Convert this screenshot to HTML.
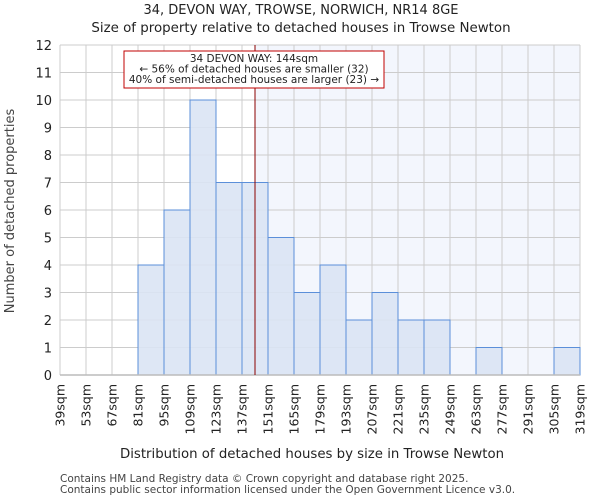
<!DOCTYPE html>
<html><head><meta charset="utf-8"><style>
body{margin:0;background:#fff;font-family:"DejaVu Sans","Liberation Sans",sans-serif;}
</style></head><body>
<svg id="c" width="600" height="500" xmlns="http://www.w3.org/2000/svg" font-family="DejaVu Sans, Liberation Sans, sans-serif">
<text x="301" y="14" text-anchor="middle" font-size="13" fill="#222">34, DEVON WAY, TROWSE, NORWICH, NR14 8GE</text>
<text x="301" y="32" text-anchor="middle" font-size="13.4" fill="#222">Size of property relative to detached houses in Trowse Newton</text>
<g id="plot"></g>
<text x="312" y="458" text-anchor="middle" font-size="13.3" fill="#222">Distribution of detached houses by size in Trowse Newton</text>
<text transform="translate(14,211) rotate(-90)" text-anchor="middle" font-size="13" fill="#444">Number of detached properties</text>
<text x="60" y="482" font-size="10.5" fill="#444">Contains HM Land Registry data © Crown copyright and database right 2025.</text>
<text x="60" y="493" font-size="10.5" fill="#444">Contains public sector information licensed under the Open Government Licence v3.0.</text>
</svg>
<script>
const categories=[39,53,67,81,95,109,123,137,151,165,179,193,207,221,235,249,263,277,291,305];
const counts=[0,0,0,4,6,10,7,7,5,3,4,2,3,2,2,0,1,0,0,1];
const yTicks=[0,1,2,3,4,5,6,7,8,9,10,11,12];
const propertySize=144;
const binW=14;
const NS='http://www.w3.org/2000/svg';
const L=60,R=580,T=45,B=375;
const xMin=39,xMax=319,yMax=12;
const x=v=>L+(v-xMin)/(xMax-xMin)*(R-L);
const y=v=>B-v/yMax*(B-T);
const g=document.getElementById('plot');
function mk(tag,a){const e=document.createElementNS(NS,tag);for(const k in a)e.setAttribute(k,a[k]);g.appendChild(e);return e;}
let e;
e=mk('rect',{x:x(propertySize),y:T,width:R-x(propertySize),height:B-T,fill:'#f3f6fd'});


yTicks.forEach(t=>{
 e=mk('line',{x1:L,x2:R,y1:y(t),y2:y(t),stroke:'#cccccc','stroke-width':1});
 
 
 e=mk('text',{x:L-8,y:y(t)+5,'text-anchor':'end','font-size':13,fill:'#222'});e.textContent=t;
 
 
});
categories.concat([xMax]).forEach(c=>{
 e=mk('line',{x1:x(c),x2:x(c),y1:T,y2:B,stroke:'#cccccc','stroke-width':1});
 
 
 e=mk('text',{transform:`translate(${x(c)+4.5},384) rotate(-90)`,'text-anchor':'end','font-size':12.5,fill:'#222'});e.textContent=c+'sqm';
 
 
});
categories.forEach((c,i)=>{
 if(!counts[i])return;
 e=mk('rect',{x:x(c),y:y(counts[i]),width:x(c+binW)-x(c),height:B-y(counts[i]),fill:'#dae4f4','fill-opacity':0.9,stroke:'#5b8fd9','stroke-width':1});
 
 
});
e=mk('line',{x1:L,x2:R,y1:B,y2:B,stroke:'#bbbbbb','stroke-width':1.5});


e=mk('line',{x1:x(propertySize),x2:x(propertySize),y1:T,y2:B,stroke:'#8b0000','stroke-width':1});


e=mk('rect',{x:124,y:51,width:260,height:37,fill:'#fff',stroke:'#c00000','stroke-width':1});


['34 DEVON WAY: 144sqm','← 56% of detached houses are smaller (32)','40% of semi-detached houses are larger (23) →'].forEach((s,i)=>{
 e=mk('text',{x:254,y:62+i*10.5,'text-anchor':'middle','font-size':10.5,fill:'#222'});e.textContent=s;
 
 
});
</script>
</body></html>
